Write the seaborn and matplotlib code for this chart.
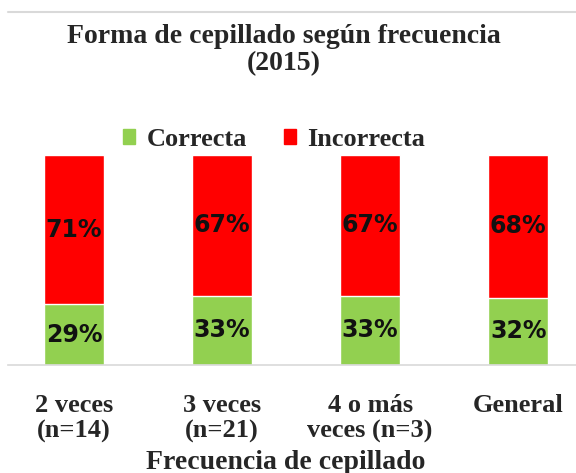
import numpy as np
import matplotlib.pyplot as plt
import matplotlib.lines as mlines
import matplotlib.patches as mpatches
import seaborn as sns
import pandas as pd

categorias = ["2 veces\n(n=14)", "3 veces\n(n=21)", "4 o más\nveces (n=3)", "General"]
correcta = [29, 33, 33, 32]
incorrecta = [71, 67, 67, 68]

verde = "#92D050"
rojo = "#FF0000"

df = pd.DataFrame({"cat": categorias, "Correcta": correcta, "Incorrecta": incorrecta})
df["total"] = df["Correcta"] + df["Incorrecta"]

sns.set_style("white")
plt.rcParams["font.family"] = ["Liberation Serif", "DejaVu Serif"]

fig = plt.figure(figsize=(5.76, 4.73), dpi=100)
ax = fig.add_axes([8 / 576, (473 - 365) / 473, 1 - 8 / 576, 210 / 473])

sns.barplot(data=df, x="cat", y="total", color=rojo, saturation=1, width=0.405, ax=ax)
sns.barplot(data=df, x="cat", y="Correcta", color=verde, saturation=1, width=0.405, ax=ax)

for i in range(len(categorias)):
    ax.text(i, correcta[i] / 2, f"{correcta[i]}%", ha="center", va="center",
            fontsize=17, fontweight="bold", family="DejaVu Sans", color="#111111")
    ax.text(i, correcta[i] + incorrecta[i] / 2, f"{incorrecta[i]}%", ha="center", va="center",
            fontsize=17, fontweight="bold", family="DejaVu Sans", color="#111111")

ax.set_xlim(-0.446, 3.39)
ax.set_ylim(0, 100)
ax.set_yticks([])
ax.set_ylabel("")
for s in ["top", "right", "left"]:
    ax.spines[s].set_visible(False)
ax.spines["bottom"].set_color("#d9d9d9")
ax.spines["bottom"].set_linewidth(1.2)
ax.tick_params(axis="x", length=0, pad=21)
for t in ax.get_xticklabels():
    t.set_fontsize(19)
    t.set_fontweight("bold")
    t.set_linespacing(1.15)
ax.set_xlabel("")

fig.text(286 / 576, 1 - 462 / 473, "Frecuencia de cepillado", ha="center", va="center",
         fontsize=20, fontweight="bold")

fig.text(284 / 576, 1 - 50 / 473, "Forma de cepillado según frecuencia\n(2015)", ha="center", va="center",
         fontsize=20, fontweight="bold", linespacing=1.12)

handles = [mpatches.Patch(color=verde, label="Correcta"), mpatches.Patch(color=rojo, label="Incorrecta")]
fig.legend(handles=handles, loc="center", bbox_to_anchor=(274 / 576, 1 - 139 / 473), ncol=2,
           frameon=False, prop={"size": 19, "weight": "bold"}, handlelength=0.46, handleheight=0.5,
           handletextpad=0.42, columnspacing=1.4, borderpad=0)

fig.add_artist(mlines.Line2D([8 / 576, 1], [1 - 12 / 473, 1 - 12 / 473], color="#d9d9d9", lw=1.5))

fig.savefig("out.png", dpi=100)
